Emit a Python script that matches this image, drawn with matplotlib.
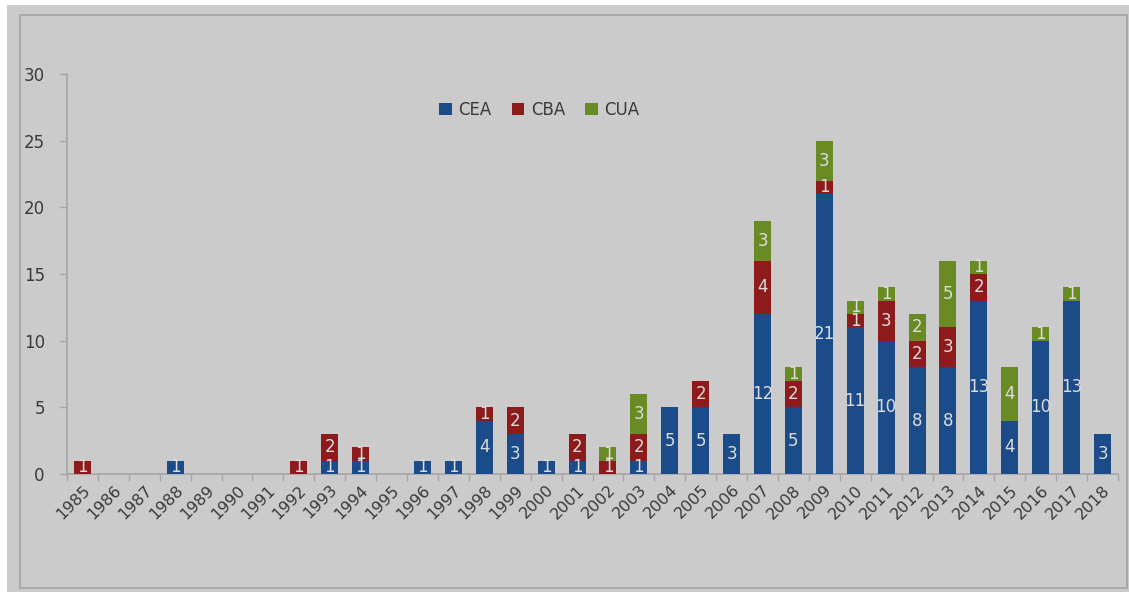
import matplotlib
matplotlib.use("Agg")
import matplotlib.pyplot as plt
from matplotlib.patches import Rectangle
import numpy as np

years = [str(y) for y in range(1985, 2019)]
cea = [0, 0, 0, 1, 0, 0, 0, 0, 1, 1, 0, 1, 1, 4, 3, 1, 1, 0, 1, 5, 5, 3, 12, 5, 21, 11, 10, 8, 8, 13, 4, 10, 13, 3]
cba = [1, 0, 0, 0, 0, 0, 0, 1, 2, 1, 0, 0, 0, 1, 2, 0, 2, 1, 2, 0, 2, 0, 4, 2, 1, 1, 3, 2, 3, 2, 0, 0, 0, 0]
cua = [0, 0, 0, 0, 0, 0, 0, 0, 0, 0, 0, 0, 0, 0, 0, 0, 0, 1, 3, 0, 0, 0, 3, 1, 3, 1, 1, 2, 5, 1, 4, 1, 1, 0]
series_names = ["CEA", "CBA", "CUA"]
colors = ["#1b4c89", "#8e1b1b", "#6a8a24"]

BG = "#cbcbcb"
fig = plt.figure(figsize=(11.29, 5.98), dpi=100, facecolor="white")
# background panel and chart-area border
fig.patches.append(Rectangle((7 / 1129, 1 - 592 / 598), 1 - 7 / 1129, (592 - 5) / 598,
                             transform=fig.transFigure, facecolor=BG, edgecolor="none", zorder=-10))
fig.patches.append(Rectangle((20 / 1129, 1 - 588 / 598), (1127 - 20) / 1129, (588 - 15) / 598,
                             transform=fig.transFigure, facecolor="none", edgecolor="#a3a3a3",
                             linewidth=1.2, zorder=-9))

ax = fig.add_axes([67 / 1129, 1 - 474 / 598, (1118 - 67) / 1129, (474 - 74) / 598])
ax.set_zorder(5)
ax.set_facecolor("none")

x = np.arange(len(years))
w = 0.55
bottom = np.zeros(len(years))
for vals, name, c in zip([cea, cba, cua], series_names, colors):
    vals = np.array(vals, dtype=float)
    bars = ax.bar(x, vals, w, bottom=bottom, color=c, label=name, zorder=3)
    for xi, v, b in zip(x, vals, bottom):
        if v > 0:
            ax.text(xi, b + v / 2, f"{int(v)}", ha="center", va="center",
                    color="#dcdcdc", fontsize=12, zorder=4)
    bottom += vals

ax.set_xlim(-0.5, len(years) - 0.5)
ax.set_ylim(0, 30)
ax.set_yticks([0, 5, 10, 15, 20, 25, 30])
ax.set_xticks(x)
ax.set_xticklabels(years, rotation=45, ha="right", rotation_mode="anchor")
ax.set_xticks(np.arange(-0.5, len(years), 1.0), minor=True)
ax.tick_params(axis="x", which="major", length=0, pad=6, labelsize=11.5, labelcolor="#3a3a3a")
ax.tick_params(axis="x", which="minor", length=5, color="#a6a6a6", width=1)
ax.tick_params(axis="y", length=6, color="#a6a6a6", width=1, pad=10, labelsize=12, labelcolor="#3a3a3a")
for s in ["top", "right"]:
    ax.spines[s].set_visible(False)
for s in ["left", "bottom"]:
    ax.spines[s].set_color("#a6a6a6")
    ax.spines[s].set_linewidth(1.2)

leg = ax.legend(loc="upper left", bbox_to_anchor=(0.34, 0.97), ncol=3, frameon=False,
                fontsize=12, handlelength=0.75, handleheight=0.75, handletextpad=0.4,
                columnspacing=1.2)
for t in leg.get_texts():
    t.set_color("#3a3a3a")

fig.savefig("out.png", dpi=100, facecolor=fig.get_facecolor())
